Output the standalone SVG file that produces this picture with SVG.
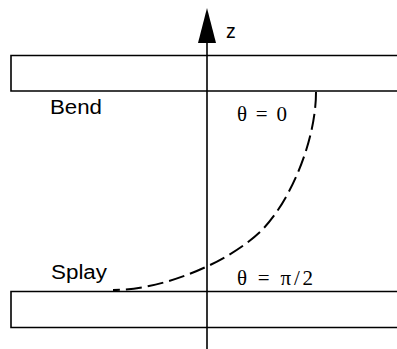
<svg xmlns="http://www.w3.org/2000/svg" width="397" height="349" viewBox="0 0 397 349">
<style>
.plate{fill:none;stroke:#000;stroke-width:1.6}
.axis{stroke:#000;stroke-width:1.6;fill:none}
.curve{fill:none;stroke:#000;stroke-width:2;stroke-dasharray:16,6}
.lab{font-family:"Liberation Sans",Arial,sans-serif;font-size:19.5px;fill:#000}
.math{font-family:"Liberation Serif","Times New Roman",serif;font-size:21px;fill:#000}
</style>
<g id="top-plate"><path class="plate" d="M400,55.5 H11 V91 H400"/></g>
<g id="bottom-plate"><path class="plate" d="M400,291.5 H11 V327.5 H400"/></g>
<g id="z-axis">
<line class="axis" x1="207" y1="40" x2="207" y2="349"/>
<polygon points="207,8 198,43 216,43" fill="#000"/>
<text class="lab" x="226" y="38">z</text>
</g>
<g id="connectors">
<path class="curve" d="M316,92 C316,142 289,204 260,232 C227,263 163,290 113,290"/>
</g>
<g id="labels">
<text class="lab" x="50" y="114" textLength="52" lengthAdjust="spacingAndGlyphs">Bend</text>
<text class="lab" x="51" y="279" textLength="56" lengthAdjust="spacingAndGlyphs">Splay</text>
<text class="math" x="237" y="121" textLength="50">θ = 0</text>
<text class="math" x="237" y="285" textLength="76">θ = π/2</text>
</g>
</svg>
